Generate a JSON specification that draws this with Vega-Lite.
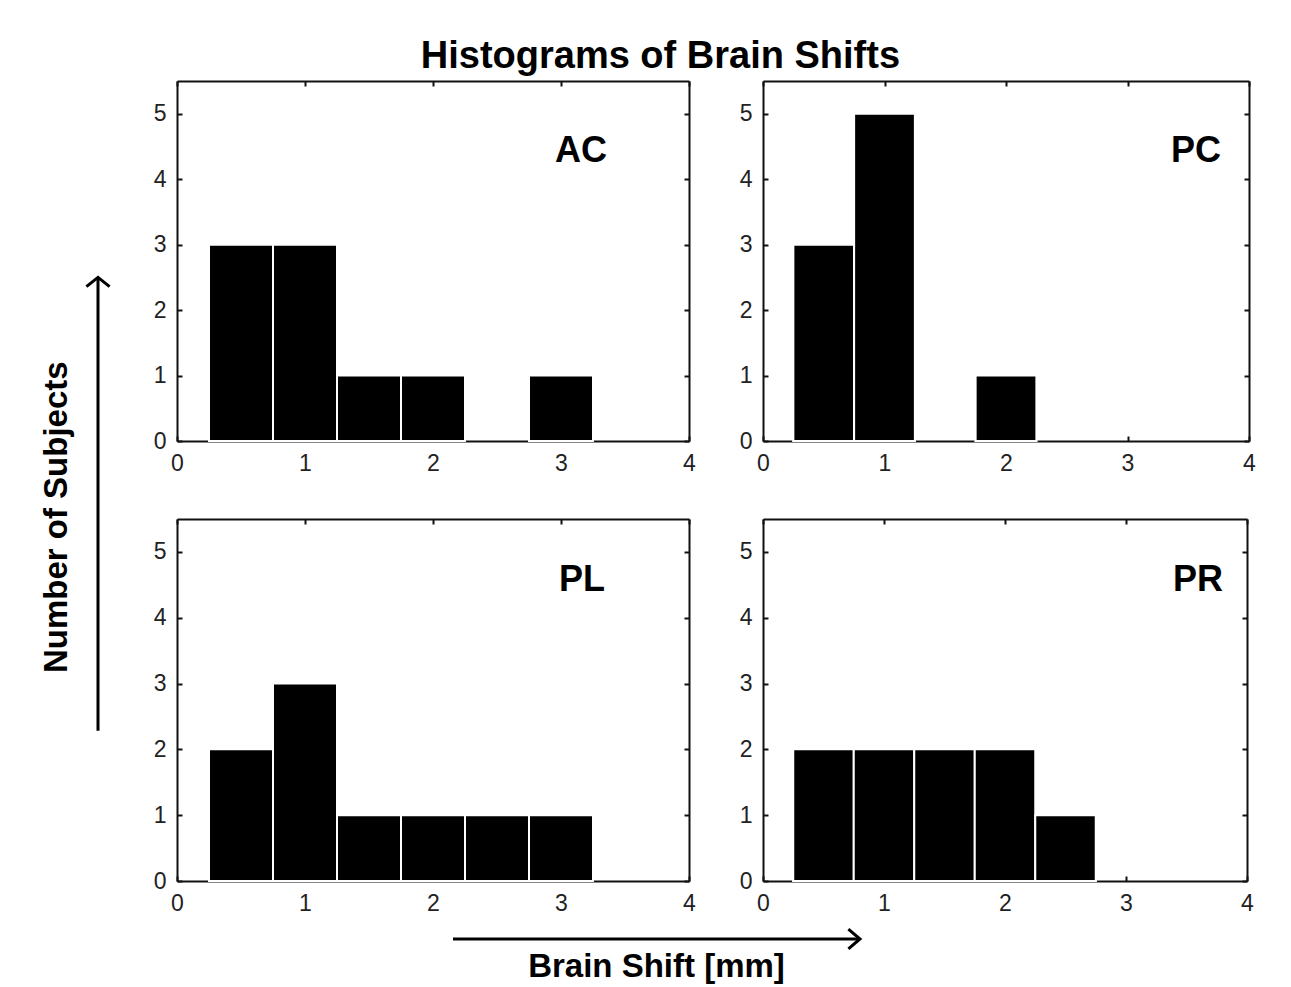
{
  "$schema": "https://vega.github.io/schema/vega-lite/v6.json",
  "background": "white",
  "padding": {"left": 41, "top": 38, "right": 5, "bottom": 5},
  "config": {
    "font": "Liberation Sans",
    "view": {"stroke": null},
    "axis": {
      "domainColor": "#111111", "domainWidth": 2,
      "tickColor": "#111111", "tickWidth": 2, "tickSize": -5,
      "labelFont": "Liberation Sans", "labelFontSize": 23, "labelColor": "#222222",
      "labelPadding": 16, "labelFlush": false, "grid": false
    },
    "title": {"font": "Liberation Sans", "fontWeight": "bold", "color": "black"}
  },
  "datasets": {
    "hist": [
      {"panel": "AC", "start": 0.25, "end": 0.75, "count": 3},
      {"panel": "AC", "start": 0.75, "end": 1.25, "count": 3},
      {"panel": "AC", "start": 1.25, "end": 1.75, "count": 1},
      {"panel": "AC", "start": 1.75, "end": 2.25, "count": 1},
      {"panel": "AC", "start": 2.75, "end": 3.25, "count": 1},
      {"panel": "PC", "start": 0.25, "end": 0.75, "count": 3},
      {"panel": "PC", "start": 0.75, "end": 1.25, "count": 5},
      {"panel": "PC", "start": 1.75, "end": 2.25, "count": 1},
      {"panel": "PL", "start": 0.25, "end": 0.75, "count": 2},
      {"panel": "PL", "start": 0.75, "end": 1.25, "count": 3},
      {"panel": "PL", "start": 1.25, "end": 1.75, "count": 1},
      {"panel": "PL", "start": 1.75, "end": 2.25, "count": 1},
      {"panel": "PL", "start": 2.25, "end": 2.75, "count": 1},
      {"panel": "PL", "start": 2.75, "end": 3.25, "count": 1},
      {"panel": "PR", "start": 0.25, "end": 0.75, "count": 2},
      {"panel": "PR", "start": 0.75, "end": 1.25, "count": 2},
      {"panel": "PR", "start": 1.25, "end": 1.75, "count": 2},
      {"panel": "PR", "start": 1.75, "end": 2.25, "count": 2},
      {"panel": "PR", "start": 2.25, "end": 2.75, "count": 1}
    ],
    "arrow": [{"pos": 0, "tail": 0, "tip": 1}]
  },
  "title": {"text": "Histograms of Brain Shifts", "fontSize": 38, "anchor": "middle", "offset": 4, "dx": 12},
  "vconcat": [
    {
      "hconcat": [
        {
          "width": 24, "height": 467,
          "title": {"text": "Number of Subjects", "orient": "left", "anchor": "middle", "fontSize": 33, "offset": 6, "dx": -20},
          "data": {"name": "arrow"},
          "layer": [
            {
              "mark": {"type": "rule", "strokeWidth": 3, "color": "black"},
              "encoding": {
                "x": {"field": "pos", "type": "quantitative", "scale": {"domain": [-1, 1]}, "axis": null},
                "y": {"field": "tail", "type": "quantitative", "scale": {"domain": [0, 1.03], "nice": false}, "axis": null},
                "y2": {"field": "tip"}
              }
            },
            {
              "mark": {"type": "point", "shape": "M-1,0.8L0,0L1,0.8", "filled": false, "stroke": "black", "strokeWidth": 3, "size": 540, "opacity": 1},
              "encoding": {
                "x": {"field": "pos", "type": "quantitative", "axis": null},
                "y": {"field": "tip", "type": "quantitative", "axis": null}
              }
            }
          ]
        },
        {
          "columns": 2,
          "spacing": {"row": 78, "column": 74},
          "bounds": "flush",
          "concat": [
            {
              "width": 512, "height": 360,
              "title": {"text": "AC", "anchor": "start", "frame": "group", "baseline": "alphabetic", "offset": -118, "dx": 378, "fontSize": 36},
              "data": {"name": "hist"},
              "transform": [{"filter": "datum.panel === 'AC'"}],
              "layer": [
                {
                  "mark": {"type": "bar", "fill": "black", "stroke": "white", "strokeWidth": 2},
                  "encoding": {
                    "x": {"field": "start", "type": "quantitative", "scale": {"domain": [0, 4], "nice": false}, "axis": {"orient": "bottom", "values": [0, 1, 2, 3, 4], "title": null}},
                    "x2": {"field": "end"},
                    "y": {"field": "count", "type": "quantitative", "scale": {"domain": [0, 5.5], "nice": false}, "axis": {"orient": "left", "values": [0, 1, 2, 3, 4, 5], "title": null}},
                    "y2": {"datum": 0}
                  }
                },
                {
                  "mark": {"type": "bar", "fill": "black", "stroke": "white", "strokeWidth": 2},
                  "encoding": {
                    "x": {"field": "start", "type": "quantitative", "axis": {"orient": "top", "values": [0, 1, 2, 3, 4], "labels": false, "title": null}},
                    "x2": {"field": "end"},
                    "y": {"field": "count", "type": "quantitative", "axis": {"orient": "right", "values": [0, 1, 2, 3, 4, 5], "labels": false, "title": null}},
                    "y2": {"datum": 0}
                  }
                }
              ],
              "resolve": {"axis": {"x": "independent", "y": "independent"}}
            },
            {
              "width": 486, "height": 360,
              "title": {"text": "PC", "anchor": "start", "frame": "group", "baseline": "alphabetic", "offset": -118, "dx": 408, "fontSize": 36},
              "data": {"name": "hist"},
              "transform": [{"filter": "datum.panel === 'PC'"}],
              "layer": [
                {
                  "mark": {"type": "bar", "fill": "black", "stroke": "white", "strokeWidth": 2},
                  "encoding": {
                    "x": {"field": "start", "type": "quantitative", "scale": {"domain": [0, 4], "nice": false}, "axis": {"orient": "bottom", "values": [0, 1, 2, 3, 4], "title": null}},
                    "x2": {"field": "end"},
                    "y": {"field": "count", "type": "quantitative", "scale": {"domain": [0, 5.5], "nice": false}, "axis": {"orient": "left", "values": [0, 1, 2, 3, 4, 5], "title": null}},
                    "y2": {"datum": 0}
                  }
                },
                {
                  "mark": {"type": "bar", "fill": "black", "stroke": "white", "strokeWidth": 2},
                  "encoding": {
                    "x": {"field": "start", "type": "quantitative", "axis": {"orient": "top", "values": [0, 1, 2, 3, 4], "labels": false, "title": null}},
                    "x2": {"field": "end"},
                    "y": {"field": "count", "type": "quantitative", "axis": {"orient": "right", "values": [0, 1, 2, 3, 4, 5], "labels": false, "title": null}},
                    "y2": {"datum": 0}
                  }
                }
              ],
              "resolve": {"axis": {"x": "independent", "y": "independent"}}
            },
            {
              "width": 512, "height": 362,
              "title": {"text": "PL", "anchor": "start", "frame": "group", "baseline": "alphabetic", "offset": -109, "dx": 382, "fontSize": 36},
              "data": {"name": "hist"},
              "transform": [{"filter": "datum.panel === 'PL'"}],
              "layer": [
                {
                  "mark": {"type": "bar", "fill": "black", "stroke": "white", "strokeWidth": 2},
                  "encoding": {
                    "x": {"field": "start", "type": "quantitative", "scale": {"domain": [0, 4], "nice": false}, "axis": {"orient": "bottom", "values": [0, 1, 2, 3, 4], "title": null}},
                    "x2": {"field": "end"},
                    "y": {"field": "count", "type": "quantitative", "scale": {"domain": [0, 5.5], "nice": false}, "axis": {"orient": "left", "values": [0, 1, 2, 3, 4, 5], "title": null}},
                    "y2": {"datum": 0}
                  }
                },
                {
                  "mark": {"type": "bar", "fill": "black", "stroke": "white", "strokeWidth": 2},
                  "encoding": {
                    "x": {"field": "start", "type": "quantitative", "axis": {"orient": "top", "values": [0, 1, 2, 3, 4], "labels": false, "title": null}},
                    "x2": {"field": "end"},
                    "y": {"field": "count", "type": "quantitative", "axis": {"orient": "right", "values": [0, 1, 2, 3, 4, 5], "labels": false, "title": null}},
                    "y2": {"datum": 0}
                  }
                }
              ],
              "resolve": {"axis": {"x": "independent", "y": "independent"}}
            },
            {
              "width": 484, "height": 362,
              "title": {"text": "PR", "anchor": "start", "frame": "group", "baseline": "alphabetic", "offset": -109, "dx": 410, "fontSize": 36},
              "data": {"name": "hist"},
              "transform": [{"filter": "datum.panel === 'PR'"}],
              "layer": [
                {
                  "mark": {"type": "bar", "fill": "black", "stroke": "white", "strokeWidth": 2},
                  "encoding": {
                    "x": {"field": "start", "type": "quantitative", "scale": {"domain": [0, 4], "nice": false}, "axis": {"orient": "bottom", "values": [0, 1, 2, 3, 4], "title": null}},
                    "x2": {"field": "end"},
                    "y": {"field": "count", "type": "quantitative", "scale": {"domain": [0, 5.5], "nice": false}, "axis": {"orient": "left", "values": [0, 1, 2, 3, 4, 5], "title": null}},
                    "y2": {"datum": 0}
                  }
                },
                {
                  "mark": {"type": "bar", "fill": "black", "stroke": "white", "strokeWidth": 2},
                  "encoding": {
                    "x": {"field": "start", "type": "quantitative", "axis": {"orient": "top", "values": [0, 1, 2, 3, 4], "labels": false, "title": null}},
                    "x2": {"field": "end"},
                    "y": {"field": "count", "type": "quantitative", "axis": {"orient": "right", "values": [0, 1, 2, 3, 4, 5], "labels": false, "title": null}},
                    "y2": {"datum": 0}
                  }
                }
              ],
              "resolve": {"axis": {"x": "independent", "y": "independent"}}
            }
          ]
        }
      ],
      "spacing": 37,
      "center": true
    },
    {
      "hconcat": [
        {
          "width": 365, "height": 18,
          "data": {"name": "arrow"},
          "mark": {"type": "rule", "opacity": 0},
          "encoding": {}
        },
        {
          "width": 407, "height": 18,
          "title": {"text": "Brain Shift [mm]", "orient": "bottom", "anchor": "middle", "fontSize": 33, "offset": -4},
          "data": {"name": "arrow"},
          "layer": [
            {
              "mark": {"type": "rule", "strokeWidth": 3, "color": "black"},
              "encoding": {
                "y": {"field": "pos", "type": "quantitative", "scale": {"domain": [-1, 1]}, "axis": null},
                "x": {"field": "tail", "type": "quantitative", "scale": {"domain": [0, 1], "nice": false}, "axis": null},
                "x2": {"field": "tip"}
              }
            },
            {
              "mark": {"type": "point", "shape": "M-1,-0.85L0,0L-1,0.85", "filled": false, "stroke": "black", "strokeWidth": 3, "size": 540, "opacity": 1},
              "encoding": {
                "x": {"field": "tip", "type": "quantitative", "axis": null},
                "y": {"field": "pos", "type": "quantitative", "axis": null}
              }
            }
          ]
        }
      ],
      "spacing": 0
    }
  ],
  "spacing": 8
}
